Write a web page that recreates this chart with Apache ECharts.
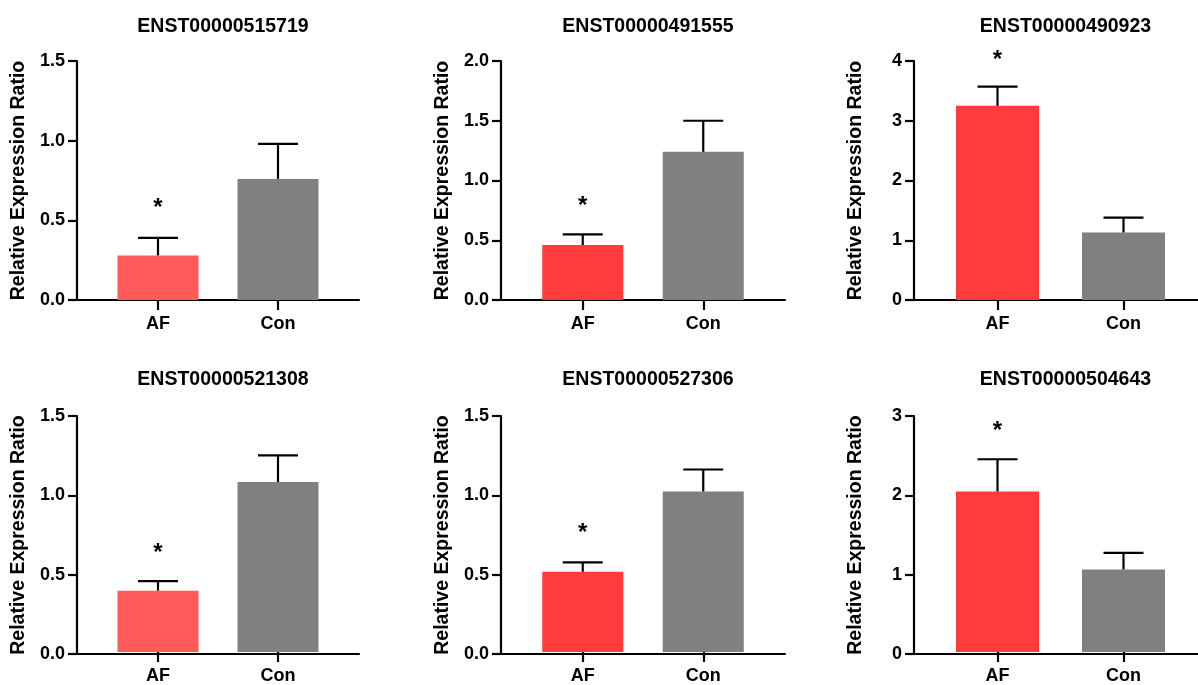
<!DOCTYPE html>
<html>
<head>
<meta charset="utf-8">
<script src="https://cdn.jsdelivr.net/npm/echarts@6/dist/echarts.min.js"></script>
<style>
html,body{margin:0;padding:0;background:#fff;}
#chart{width:1198px;height:685px;}
</style>
</head>
<body>
<div id="chart"></div>
<script>
// ---- data ----
var titles = ['ENST00000515719','ENST00000491555','ENST00000490923','ENST00000521308','ENST00000527306','ENST00000504643'];
var categories = ['AF','Con'];
var afMean = [0.28, 0.46, 3.25, 0.39, 0.51, 2.04];
var afSem  = [0.11, 0.09, 0.32, 0.06, 0.06, 0.41];
var conMean = [0.76, 1.24, 1.13, 1.08, 1.02, 1.05];
var conSem  = [0.22, 0.26, 0.25, 0.17, 0.14, 0.21];
var yMax = [1.5, 2, 4, 1.5, 1.5, 3];
var yInterval = [0.5, 0.5, 1, 0.5, 0.5, 1];
var starY = [0.6, 0.82, 4.08, 0.655, 0.78, 2.86];
var yAxisName = 'Relative Expression Ratio';

// ---- layout / style ----
var FONT = "Arial, 'Liberation Sans', sans-serif";
var colAxisX = [77, 501, 914];
var colAxisW = [282, 284, 293];
var colDataX = [98, 522.5, 934.5];
var colDataW = [240, 241, 252];
var colBarW = [81, 81, 83];
var rowTop = [61, 416];
var rowH = [239, 238];
var titleTop = [12, 365];
var afColor = ['#ff5a5a','#ff3b3b','#ff3b3b','#ff5a5a','#ff3b3b','#ff3b3b'];
var conColor = '#808080';

var grids = [], xAxes = [], yAxes = [], series = [], title = [];
for (var i = 0; i < 6; i++) {
  var c = i % 3, r = Math.floor(i / 3);
  var fIdx = i * 2, dIdx = i * 2 + 1;
  // frame grid (y axis + full x axis line)
  grids.push({left: colAxisX[c], width: colAxisW[c], top: rowTop[r], height: rowH[r]});
  // data grid
  grids.push({left: colDataX[c], width: colDataW[c], top: rowTop[r], height: rowH[r]});
  xAxes.push({gridIndex: fIdx, type: 'category', data: categories,
    axisLine: {show: true, lineStyle: {color: '#000', width: 2.2}},
    axisTick: {show: false}, axisLabel: {show: false}, splitLine: {show: false}});
  xAxes.push({gridIndex: dIdx, type: 'category', data: categories,
    axisLine: {show: false},
    axisTick: {show: true, alignWithLabel: true, length: 10, lineStyle: {color: '#000', width: 2.2}},
    axisLabel: {color: '#000', fontSize: 18, fontWeight: 'bold', fontFamily: FONT, margin: 15},
    splitLine: {show: false}});
  var itv = yInterval[i];
  yAxes.push({gridIndex: fIdx, type: 'value', min: 0, max: yMax[i], interval: itv,
    name: yAxisName, nameLocation: 'middle', nameGap: 48,
    nameTextStyle: {color: '#000', fontSize: 19.5, fontWeight: 'bold', fontFamily: FONT},
    axisLine: {show: true, lineStyle: {color: '#000', width: 2.2}},
    axisTick: {show: true, length: 9, lineStyle: {color: '#000', width: 2.2}},
    axisLabel: {color: '#000', fontSize: 18, fontWeight: 'bold', fontFamily: FONT, margin: 12,
      formatter: (function(iv){ return function(v){ return iv < 1 ? v.toFixed(1) : String(v); }; })(itv)},
    splitLine: {show: false}});
  yAxes.push({gridIndex: dIdx, type: 'value', min: 0, max: yMax[i], interval: itv, show: false});

  title.push({text: titles[i], left: colAxisX[c] + colAxisW[c] / 2, top: titleTop[r], textAlign: 'center',
    textStyle: {color: '#000', fontSize: 19.5, fontWeight: 'bold', fontFamily: FONT}});

  series.push({type: 'bar', xAxisIndex: dIdx, yAxisIndex: dIdx, barWidth: colBarW[c],
    data: [{value: afMean[i], itemStyle: {color: afColor[i]}}, {value: conMean[i], itemStyle: {color: conColor}}],
    silent: true, animation: false});
  series.push({type: 'custom', xAxisIndex: dIdx, yAxisIndex: dIdx, silent: true, animation: false, z: 5,
    data: [[0, afMean[i], afMean[i] + afSem[i]], [1, conMean[i], conMean[i] + conSem[i]]],
    renderItem: function(params, api) {
      var base = api.coord([api.value(0), api.value(1)]);
      var top = api.coord([api.value(0), api.value(2)]);
      var half = 20;
      var st = {stroke: '#000', lineWidth: 2.2};
      return {type: 'group', children: [
        {type: 'line', shape: {x1: base[0], y1: base[1], x2: top[0], y2: top[1]}, style: st},
        {type: 'line', shape: {x1: top[0] - half, y1: top[1], x2: top[0] + half, y2: top[1]}, style: st}
      ]};
    }});
  series.push({type: 'custom', xAxisIndex: dIdx, yAxisIndex: dIdx, silent: true, animation: false, z: 6,
    clip: false,
    data: [[0, starY[i]]],
    renderItem: function(params, api) {
      var p = api.coord([api.value(0), api.value(1)]);
      return {type: 'text', x: p[0], y: p[1] + 4,
        style: {text: '*', fill: '#000', fontSize: 24, fontWeight: 'bold', fontFamily: FONT,
          textAlign: 'center', textVerticalAlign: 'middle'}};
    }});
}

var chart = echarts.init(document.getElementById('chart'), null, {renderer: 'canvas'});
chart.setOption({
  backgroundColor: '#fff',
  animation: false,
  title: title,
  grid: grids,
  xAxis: xAxes,
  yAxis: yAxes,
  series: series
});
</script>
</body>
</html>
